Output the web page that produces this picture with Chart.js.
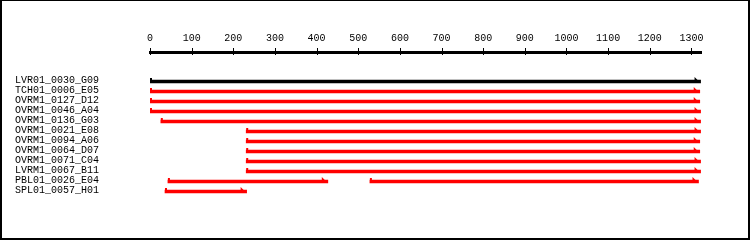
<!DOCTYPE html>
<html>
<head>
<meta charset="utf-8">
<script src="https://cdn.jsdelivr.net/npm/chart.js@4"></script>
<style>
  body { margin: 0; background: #fff; }
  #frame { width: 750px; height: 240px; box-sizing: border-box; border: 2px solid #000; border-top-width: 1px; position: relative; }
</style>
</head>
<body>
<div id="frame"><canvas id="readsChart"></canvas></div>
<script>
const samples = ['LVR01_0030_G09', 'TCH01_0006_E05', 'OVRM1_0127_D12', 'OVRM1_0046_A04',
  'OVRM1_0136_G03', 'OVRM1_0021_E08', 'OVRM1_0094_A06', 'OVRM1_0064_D07',
  'OVRM1_0071_C04', 'LVRM1_0067_B11', 'PBL01_0026_E04', 'SPL01_0057_H01'];
const starts = [0, 0, 0, 0, 26, 231, 231, 231, 231, 231, 43, 36];
const ends = [1322, 1320, 1320, 1322, 1322, 1322, 1320, 1320, 1322, 1322, 427, 232];
// PBL01 has a second piece after the gap
const starts2 = [null, null, null, null, null, null, null, null, null, null, 528, null];
const ends2 = [null, null, null, null, null, null, null, null, null, null, 1317, null];
const axisMax = 1323;
const tickStep = 100;

const rowColors = samples.map((s, i) => i === 0 ? '#000000' : '#ff0000');

const pairs = (a, b) => a.map((v, i) => v === null ? null : [v, b[i]]);

// start tick + half arrow head on every bar, and axis ticks crossing the axis line
const harpoons = {
  id: 'harpoons',
  afterDatasetsDraw(chart) {
    const ctx = chart.ctx;
    chart.data.datasets.forEach((ds, di) => {
      chart.getDatasetMeta(di).data.forEach((bar, i) => {
        if (ds.data[i] === null) return;
        const top = bar.y - bar.height / 2;
        const bottom = bar.y + bar.height / 2;
        ctx.save();
        ctx.fillStyle = bar.options.backgroundColor;
        ctx.fillRect(bar.base, top - 2, 2, 2);
        ctx.beginPath();
        ctx.moveTo(bar.x - 6, top - 3);
        ctx.lineTo(bar.x - 6, bottom);
        ctx.lineTo(bar.x, bottom);
        ctx.closePath();
        ctx.fill();
        ctx.restore();
      });
    });
  },
  afterDraw(chart) {
    const sc = chart.scales.x;
    const ctx = chart.ctx;
    ctx.save();
    ctx.fillStyle = '#000';
    sc.ticks.forEach(t => {
      const px = Math.round(sc.getPixelForValue(t.value));
      ctx.fillRect(px, sc.bottom - 4, 1, 7);
    });
    ctx.restore();
  }
};

new Chart(document.getElementById('readsChart'), {
  type: 'bar',
  data: {
    labels: samples,
    datasets: [{
      data: pairs(starts, ends),
      backgroundColor: rowColors,
      barThickness: 3,
      grouped: false,
      xAxisID: 'x'
    }, {
      data: pairs(starts2, ends2),
      backgroundColor: rowColors,
      barThickness: 3,
      grouped: false,
      xAxisID: 'x'
    }]
  },
  options: {
    indexAxis: 'y',
    responsive: true,
    maintainAspectRatio: false,
    animation: false,
    layout: {
      padding: { top: 19, left: 13, right: 47, bottom: 41.5 }
    },
    plugins: {
      legend: { display: false },
      tooltip: { enabled: false }
    },
    scales: {
      x: {
        position: 'top',
        weight: 1,
        min: 0,
        max: axisMax,
        grid: { display: false, drawTicks: false },
        border: { display: true, width: 3, color: '#000' },
        ticks: {
          stepSize: tickStep,
          includeBounds: false,
          maxRotation: 0,
          autoSkip: false,
          padding: 8,
          color: '#000',
          font: { family: 'Liberation Mono', size: 10 },
          callback: v => String(v)
        },
        afterFit: s => { s.height = 32; }
      },
      x2: {
        type: 'linear',
        position: 'top',
        weight: 0,
        display: true,
        grid: { display: false },
        border: { display: false },
        ticks: { display: false },
        afterFit: s => { s.height = 24.5; }
      },
      y: {
        grid: { display: false, drawTicks: false },
        border: { display: false },
        ticks: {
          crossAlign: 'far',
          labelOffset: -1,
          autoSkip: false,
          color: '#000',
          font: { family: 'Liberation Mono', size: 10 }
        },
        afterFit: s => { s.width = 135; }
      }
    }
  },
  plugins: [harpoons]
});
</script>
</body>
</html>
